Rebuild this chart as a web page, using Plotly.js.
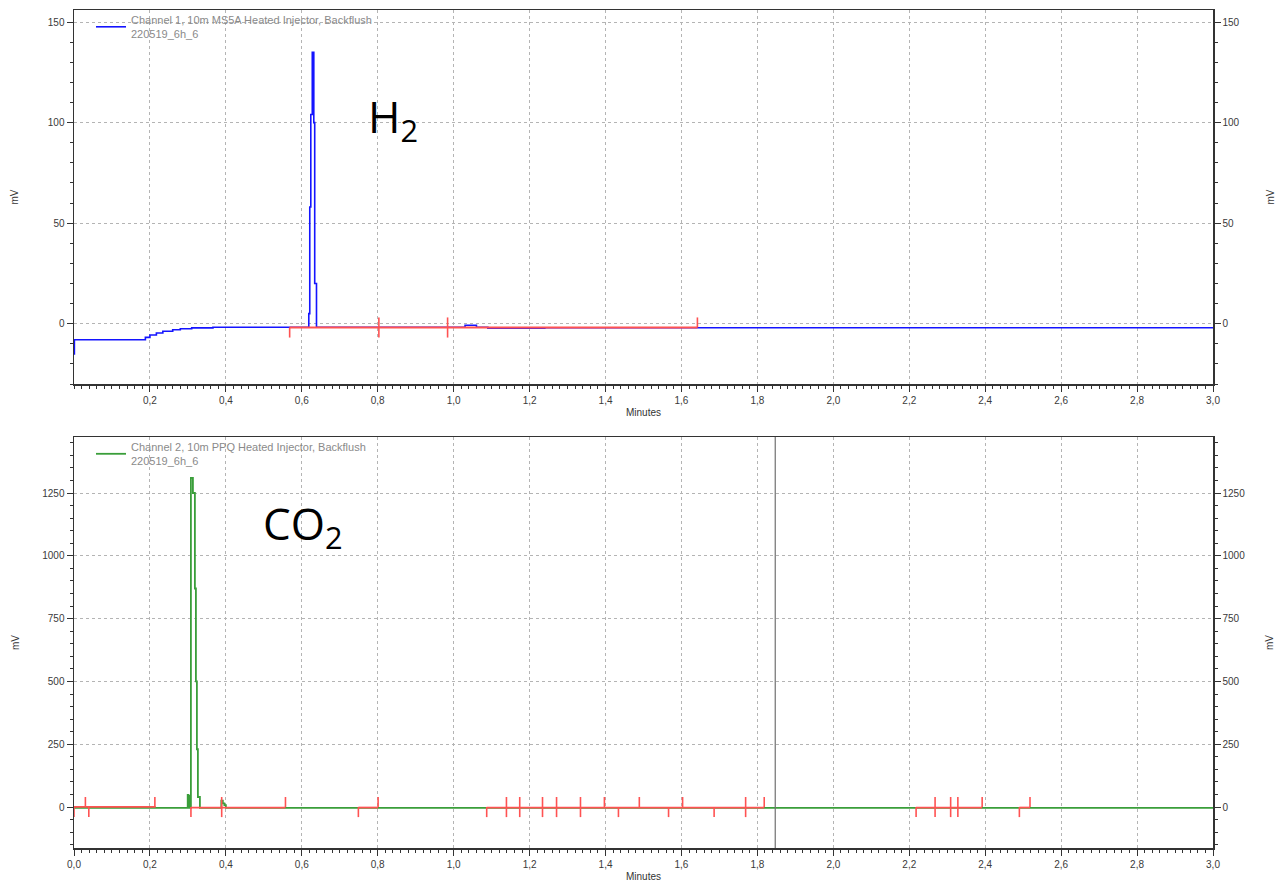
<!DOCTYPE html>
<html>
<head>
<meta charset="utf-8">
<script src="https://cdn.plot.ly/plotly-3.0.1.min.js"></script>
<style>html,body{margin:0;padding:0;background:#fff}#chart{width:1287px;height:885px}</style>
</head>
<body>
<div id="chart"></div>
<script>
// ---------- Channel 1 (top) ----------
const ch1Name = "Channel 1, 10m MS5A Heated Injector, Backflush<br>220519_6h_6";
const ch1Time   = [0, 0.001, 0.188, 0.20, 0.217, 0.234, 0.26, 0.28, 0.31, 0.366, 0.6184, 0.621, 0.6237, 0.6276, 0.6316, 0.634, 0.6387, 1.03, 1.06, 1.09, 1.24, 3.0];
const ch1Signal = [-15, -8, -6.8, -5.6, -4.6, -3.8, -3.0, -2.5, -2.1, -1.8, 5, 58, 104, 135, 100, 20, -1.8, -0.8, -1.8, -2.2, -2, -2];
const ch1BaseTime  = [0.568, 1.642];
const ch1BaseLevel = [-1.9, -1.9];
const ch1EventTime = [0.568, 0.803, 0.984, 1.642];
const ch1EventUp   = [0, 5, 5, 5];
const ch1EventDown = [5, 5, 5, 0];

// ---------- Channel 2 (bottom) ----------
const ch2Name = "Channel 2, 10m PPQ Heated Injector, Backflush<br>220519_6h_6";
const ch2Time   = [0, 0.2985, 0.2995, 0.301, 0.3025, 0.304, 0.3079, 0.3132, 0.3184, 0.3211, 0.3237, 0.3263, 0.3316, 0.388, 0.392, 0.396, 0.400, 3.0];
const ch2Signal = [-3, -3, 48, -3, 45, -3, 1310, 1250, 870, 500, 230, 40, -3, 25, 15, 8, -3, -3];
const ch2BaseTime  = [0, 0.215, null, 0.308, 0.557, null, 0.749, 0.801, null, 1.087, 1.818, null, 2.218, 2.392, null, 2.49, 2.518];
const ch2BaseLevel = [1, 1, null, -2, -2, null, -2, -2, null, -2, -2, null, -2, -2, null, -2, -2];
const ch2EventTime = [0.0, 0.030, 0.039, 0.213, 0.308, 0.389, 0.557, 0.749, 0.801, 1.087, 1.139, 1.174, 1.234, 1.271, 1.334, 1.397, 1.434, 1.489, 1.566, 1.603, 1.686, 1.769, 1.818, 2.218, 2.268, 2.309, 2.328, 2.392, 2.49, 2.518];
const ch2EventUp   = [0, 40, 0, 40, 0, 40, 40, 0, 40, 0, 40, 40, 40, 40, 40, 40, 0, 40, 0, 40, 0, 40, 40, 0, 40, 40, 40, 40, 0, 40];
const ch2EventDown = [40, 0, 40, 0, 40, 40, 0, 40, 0, 40, 40, 40, 40, 40, 40, 0, 40, 0, 40, 0, 40, 40, 0, 40, 40, 40, 40, 0, 40, 0];
const ch2Cursor = 1.847;

// ---------- Axis ticks ----------
const xTicksTop    = [0.2, 0.4, 0.6, 0.8, 1.0, 1.2, 1.4, 1.6, 1.8, 2.0, 2.2, 2.4, 2.6, 2.8, 3.0];
const xTicksBottom = [0.0, 0.2, 0.4, 0.6, 0.8, 1.0, 1.2, 1.4, 1.6, 1.8, 2.0, 2.2, 2.4, 2.6, 2.8, 3.0];
const yTicksTop    = [0, 50, 100, 150];
const yTicksBottom = [0, 250, 500, 750, 1000, 1250];

const RED = "#ff5252", BLUE = "#1414ff", GREEN = "#3a9e3a";
const tickFont = {family: "Liberation Sans, Arial, sans-serif", size: 10, color: "#3a3a3a"};
const gridCol = "#b4b4b4";

function eventTrace(t, lvlArr, up, down, xa, ya) {
  return {x: t, y: lvlArr, type: "scatter", mode: "markers", xaxis: xa, yaxis: ya,
    marker: {size: 1, color: "rgba(0,0,0,0)"}, showlegend: false, hoverinfo: "skip",
    error_y: {type: "data", symmetric: false, array: up, arrayminus: down, color: RED, thickness: 1.6, width: 0}};
}

const traces = [
  {x: ch1Time, y: ch1Signal, type: "scatter", mode: "lines", line: {color: BLUE, width: 1.6, shape: "hv"},
   name: ch1Name, legend: "legend", xaxis: "x", yaxis: "y"},
  {x: ch1BaseTime, y: ch1BaseLevel, type: "scatter", mode: "lines", line: {color: RED, width: 2},
   showlegend: false, xaxis: "x", yaxis: "y"},
  eventTrace(ch1EventTime, ch1EventTime.map(() => ch1BaseLevel[0]), ch1EventUp, ch1EventDown, "x", "y"),
  {x: ch2Time, y: ch2Signal, type: "scatter", mode: "lines", line: {color: GREEN, width: 1.8, shape: "hv"},
   name: ch2Name, legend: "legend2", xaxis: "x2", yaxis: "y2"},
  {x: ch2BaseTime, y: ch2BaseLevel, type: "scatter", mode: "lines", line: {color: RED, width: 1.8},
   showlegend: false, xaxis: "x2", yaxis: "y2", connectgaps: false},
  eventTrace(ch2EventTime, ch2EventTime.map(() => 0), ch2EventUp, ch2EventDown, "x2", "y2"),
  // invisible carriers for right-hand axes
  {x: [null], y: [null], type: "scatter", mode: "lines", showlegend: false, xaxis: "x", yaxis: "y3"},
  {x: [null], y: [null], type: "scatter", mode: "lines", showlegend: false, xaxis: "x2", yaxis: "y4"}
];

const xDom = [74/1287, 1213/1287];
const topDom = [(885-384)/885, (885-10)/885];
const botDom = [(885-848)/885, (885-437)/885];

function xAxis(ticks, dom, anchor) {
  return {domain: dom, anchor: anchor, range: [0, 3.0], tickvals: ticks, tickformat: ".1f",
    ticks: "outside", ticklen: 6, tickcolor: "#333", tickfont: tickFont,
    minor: {dtick: 0.02, tick0: 0, ticks: "outside", ticklen: 3, tickcolor: "#333", showgrid: false},
    showgrid: true, gridcolor: gridCol, griddash: "3px,3px", gridwidth: 1,
    showline: true, linecolor: "#333", linewidth: 1.5, mirror: true, zeroline: false,
    title: {text: "Minutes", font: {family: "Liberation Sans, Arial, sans-serif", size: 10, color: "#333"}, standoff: 4}};
}
function yAxis(dom, anchor, range, ticks, minorStep, side, overlay, standoff) {
  const a = {domain: dom, anchor: anchor, range: range, tickvals: ticks, tickformat: "d",
    ticks: "outside", ticklen: 6, tickcolor: "#333", tickfont: tickFont,
    minor: {dtick: minorStep, tick0: 0, ticks: "outside", ticklen: 3, tickcolor: "#333", showgrid: false},
    showline: true, linecolor: "#333", linewidth: 1.5, zeroline: false,
    title: {text: "mV", font: {family: "Liberation Sans, Arial, sans-serif", size: 10, color: "#333"}, standoff: standoff}};
  if (overlay) { a.overlaying = overlay; a.side = side; a.showgrid = false; }
  else { a.showgrid = true; a.gridcolor = gridCol; a.griddash = "3px,3px"; a.gridwidth = 1; }
  return a;
}

const legendFont = {family: "Liberation Sans, Arial, sans-serif", size: 11, color: "#8a8a8a"};
const layout = {
  width: 1287, height: 885, margin: {l: 0, r: 0, t: 0, b: 0},
  paper_bgcolor: "#fff", plot_bgcolor: "#fff", separators: ", ", hovermode: false,
  xaxis: xAxis(xTicksTop, xDom, "y"),
  yaxis: yAxis(topDom, "x", [-30, 156], yTicksTop, 10, "left", null, 27),
  yaxis3: yAxis(topDom, "x", [-30, 156], yTicksTop, 10, "right", "y", 28),
  xaxis2: xAxis(xTicksBottom, xDom, "y2"),
  yaxis2: yAxis(botDom, "x2", [-163, 1473], yTicksBottom, 50, "left", null, 21),
  yaxis4: yAxis(botDom, "x2", [-163, 1473], yTicksBottom, 50, "right", "y2", 22),
  legend: {x: 91/1287, y: (885-6)/885, xanchor: "left", yanchor: "top", bgcolor: "rgba(0,0,0,0)",
    font: legendFont, itemwidth: 30},
  legend2: {x: 91/1287, y: (885-433)/885, xanchor: "left", yanchor: "top", bgcolor: "rgba(0,0,0,0)",
    font: legendFont, itemwidth: 30},
  shapes: [{type: "line", xref: "x2", yref: "y2 domain", x0: ch2Cursor, x1: ch2Cursor, y0: 0, y1: 1,
    line: {color: "#707070", width: 1.2}}],
  annotations: [
    {text: "H<sub>2</sub>", xref: "x", yref: "y", x: 0.768, y: 102, xanchor: "left", yanchor: "middle",
     showarrow: false, font: {family: "Open Sans, sans-serif", size: 44, color: "#000"}},
    {text: "CO<sub>2</sub>", xref: "x2", yref: "y2", x: 0.492, y: 1120, xanchor: "left", yanchor: "middle",
     showarrow: false, font: {family: "Open Sans, sans-serif", size: 44, color: "#000"}}
  ]
};

Plotly.newPlot("chart", traces, layout, {staticPlot: true, displayModeBar: false});
</script>
</body>
</html>
